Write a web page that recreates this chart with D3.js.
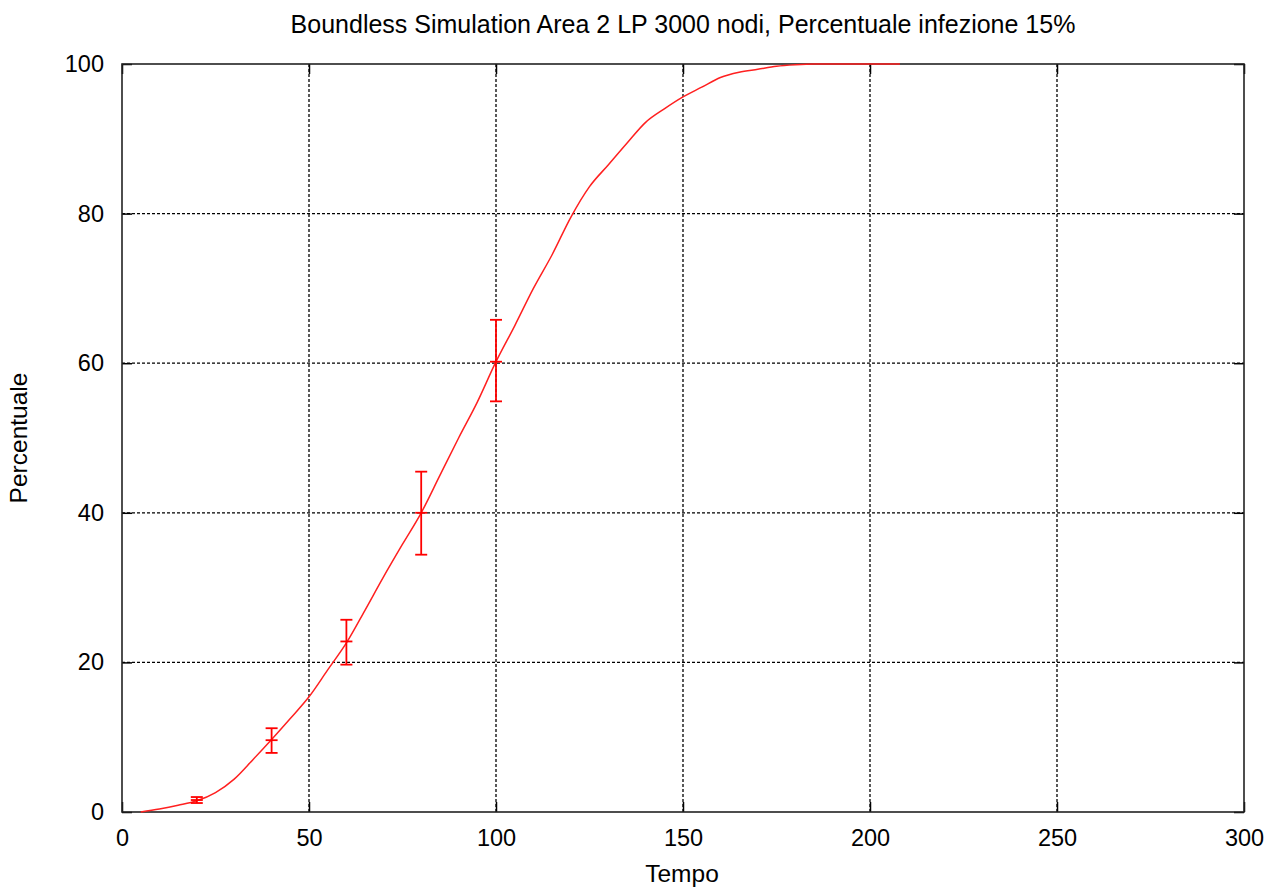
<!DOCTYPE html>
<html>
<head>
<meta charset="utf-8">
<script src="https://cdn.jsdelivr.net/npm/d3@7"></script>
<style>
  html, body { margin: 0; padding: 0; background: #fff; }
  svg text { font-family: "Liberation Sans", Arial, sans-serif; fill: #000; }
</style>
</head>
<body>
<svg id="chart" width="1279" height="887"></svg>
<script>
// Mean infection percentage over time
const tempo = [5, 10, 15, 20, 25, 30, 35, 40, 45, 50, 55, 60, 65, 70, 75, 80, 85, 90, 95,
               100, 105, 110, 115, 120, 125, 130, 135, 140, 145, 150, 155, 160, 165, 170, 175,
               180, 185, 190, 200, 208];
const percentuale = [0, 0.4, 0.9, 1.5, 2.6, 4.4, 7.0, 9.7, 12.5, 15.4, 19.0, 22.6, 27.0, 31.5,
                     35.8, 40.0, 45.0, 50.0, 54.8, 60.2, 65.0, 70.0, 74.5, 79.5, 83.6, 86.5, 89.4,
                     92.2, 94.0, 95.6, 96.9, 98.2, 98.9, 99.3, 99.7, 99.9, 100, 100, 100, 100];

// Sampled points with spread (low / high)
const errTempo = [20, 40, 60, 80, 100];
const errMean  = [1.6, 9.6, 22.8, 40.0, 60.2];
const errLow   = [1.2, 7.9, 19.7, 34.4, 54.9];
const errHigh  = [2.0, 11.2, 25.7, 45.5, 65.8];

const xTicks = [0, 50, 100, 150, 200, 250, 300];
const yTicks = [0, 20, 40, 60, 80, 100];

const titleText = "Boundless Simulation Area 2 LP 3000 nodi, Percentuale infezione 15%";
const xLabel = "Tempo";
const yLabel = "Percentuale";

const svg = d3.select("#chart");
const mLeft = 122, mRight = 1244, mTop = 64, mBottom = 812;

const x = d3.scaleLinear().domain([0, 300]).range([mLeft, mRight]);
const y = d3.scaleLinear().domain([0, 100]).range([mBottom, mTop]);

// grid
const grid = svg.append("g").attr("stroke", "#000").attr("stroke-width", 1.3)
  .attr("stroke-dasharray", "3,2");
xTicks.filter(d => d > 0 && d < 300).forEach(d => {
  grid.append("line").attr("x1", x(d)).attr("x2", x(d)).attr("y1", mTop).attr("y2", mBottom);
});
yTicks.filter(d => d > 0 && d < 100).forEach(d => {
  grid.append("line").attr("x1", mLeft).attr("x2", mRight).attr("y1", y(d)).attr("y2", y(d));
});

// axes with inward ticks on all sides
const tickLen = 10;
const axB = svg.append("g").attr("transform", `translate(0,${mBottom})`)
  .call(d3.axisBottom(x).tickValues(xTicks).tickSizeInner(-tickLen).tickSizeOuter(0).tickPadding(17));
const axT = svg.append("g").attr("transform", `translate(0,${mTop})`)
  .call(d3.axisTop(x).tickValues(xTicks).tickSizeInner(-tickLen).tickSizeOuter(0).tickFormat(""));
const axL = svg.append("g").attr("transform", `translate(${mLeft},0)`)
  .call(d3.axisLeft(y).tickValues(yTicks).tickSizeInner(-tickLen).tickSizeOuter(0).tickPadding(18));
const axR = svg.append("g").attr("transform", `translate(${mRight},0)`)
  .call(d3.axisRight(y).tickValues(yTicks).tickSizeInner(-tickLen).tickSizeOuter(0).tickFormat(""));

[axB, axT, axL, axR].forEach(a => {
  a.select(".domain").remove();
  a.selectAll(".tick line").attr("stroke", "#000").attr("stroke-width", 1.5);
  a.selectAll("text").attr("font-size", 23.5).attr("font-family", "Liberation Sans, Arial, sans-serif").attr("fill", "#000");
});

// frame
svg.append("rect").attr("x", mLeft).attr("y", mTop).attr("width", mRight - mLeft).attr("height", mBottom - mTop)
  .attr("fill", "none").attr("stroke", "#222").attr("stroke-width", 1.6);

// curve
const line = d3.line().x((d, i) => x(tempo[i])).y(d => y(d)).curve(d3.curveMonotoneX);
svg.append("path").datum(percentuale).attr("d", line)
  .attr("fill", "none").attr("stroke", "#ff2020").attr("stroke-width", 1.5);

// error bars
const eb = svg.append("g").attr("stroke", "#ff0000").attr("stroke-width", 1.8);
const cap = 6;
errTempo.forEach((t, i) => {
  const cx = x(t);
  eb.append("line").attr("x1", cx).attr("x2", cx).attr("y1", y(errLow[i])).attr("y2", y(errHigh[i]));
  eb.append("line").attr("x1", cx - cap).attr("x2", cx + cap).attr("y1", y(errLow[i])).attr("y2", y(errLow[i]));
  eb.append("line").attr("x1", cx - cap).attr("x2", cx + cap).attr("y1", y(errHigh[i])).attr("y2", y(errHigh[i]));
  eb.append("line").attr("x1", cx - cap).attr("x2", cx + cap).attr("y1", y(errMean[i])).attr("y2", y(errMean[i]));
});

// titles
svg.append("text").attr("x", 683).attr("y", 33).attr("text-anchor", "middle")
  .attr("font-size", 25).text(titleText);
svg.append("text").attr("x", 682).attr("y", 882).attr("text-anchor", "middle")
  .attr("font-size", 24.5).text(xLabel);
svg.append("text").attr("transform", "translate(27,438) rotate(-90)").attr("text-anchor", "middle")
  .attr("font-size", 24.5).text(yLabel);
</script>
</body>
</html>
